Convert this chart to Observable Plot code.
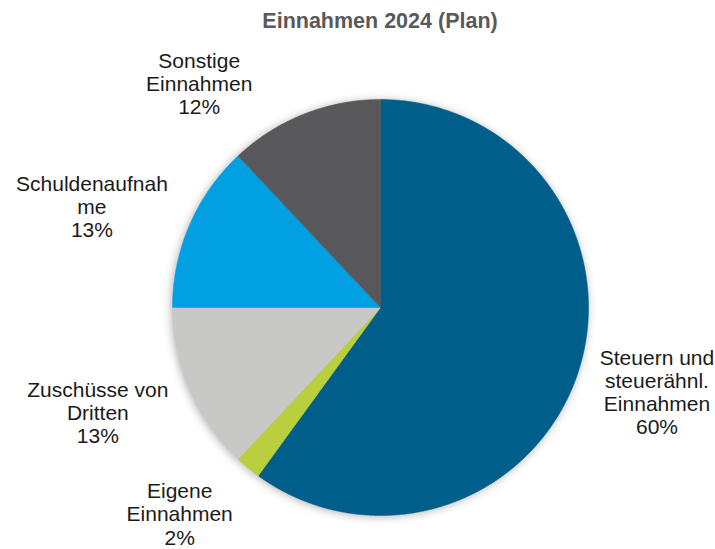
<!DOCTYPE html>
<html><head><meta charset="utf-8">
<script src="https://cdn.jsdelivr.net/npm/d3@7"></script>
<script src="https://cdn.jsdelivr.net/npm/@observablehq/plot@0.6"></script>
<style>body{margin:0;background:#fff}</style>
</head><body><div id="chart"></div>
<script>
const title = "Einnahmen 2024 (Plan)";
const categories = ["Steuern und steuerähnl. Einnahmen", "Eigene Einnahmen", "Zuschüsse von Dritten", "Schuldenaufnahme", "Sonstige Einnahmen"];
const labelNames = ["Steuern und\nsteuerähnl.\nEinnahmen", "Eigene\nEinnahmen", "Zuschüsse von\nDritten", "Schuldenaufnah\nme", "Sonstige\nEinnahmen"];
const shares = [60, 2, 13, 13, 12];
const colors = ["#005f8a", "#bacf3e", "#c8c9c7", "#00a0e2", "#58585a"];

// layout
const W = 715, H = 549, R = 208, CX = 380, CY = 307;
const labelNudge = [-1, 4.6, 3, -4.1, -17.4]; // degrees
const labelDist = [1.39, 1.385, 1.45, 1.47, 1.385];

const total = d3.sum(shares);
let acc = 0;
const slices = shares.map((v, i) => {
  const s = acc / total; acc += v;
  return {cat: categories[i], start: s * 2 * Math.PI, end: acc / total * 2 * Math.PI, value: v, i};
});
const polyPts = slices.flatMap(s => {
  const n = Math.max(4, Math.ceil((s.end - s.start) / (Math.PI / 180) * 2));
  const pts = [{cat: s.cat, x: 0, y: 0}];
  for (let k = 0; k <= n; k++) {
    const a = s.start + (s.end - s.start) * k / n;
    pts.push({cat: s.cat, x: Math.sin(a), y: Math.cos(a)});
  }
  pts.push({cat: s.cat, x: 0, y: 0});
  return pts;
});
const labels = slices.map((s, i) => {
  const a = (s.start + s.end) / 2 + labelNudge[i] * Math.PI / 180;
  return {x: labelDist[i] * Math.sin(a), y: labelDist[i] * Math.cos(a), text: labelNames[i] + "\n" + s.value + "%"};
});

const chart = Plot.plot({
  width: W, height: H, margin: 0,
  x: {domain: [-CX / R, (W - CX) / R], axis: null},
  y: {domain: [-(H - CY) / R, CY / R], axis: null},
  color: {domain: categories, range: colors},
  style: {fontFamily: "'Liberation Sans', Arial, sans-serif", background: "#fff"},
  marks: [
    Plot.line(polyPts, {x: "x", y: "y", z: "cat", fill: "cat", stroke: "cat", strokeWidth: 0.5, curve: "linear"}),
    Plot.text(labels, {x: "x", y: "y", text: "text", fontSize: 21, lineHeight: 1.1, fill: "#1a1a1a"}),
    Plot.text([title], {frameAnchor: "top", dx: 22, dy: 12, fontWeight: "bold", fontSize: 21.5, fill: "#595959"})
  ]
});
d3.select(chart).select('g[aria-label="line"]').style("filter", "drop-shadow(-1px 1px 4px rgba(0,0,0,0.3))");
document.getElementById("chart").appendChild(chart);
</script>
</body></html>
